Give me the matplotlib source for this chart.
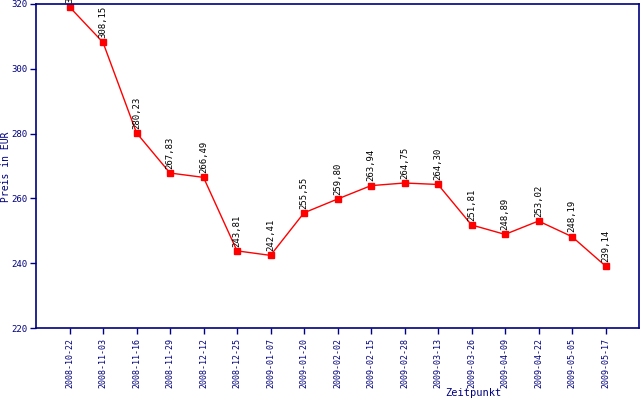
import matplotlib
matplotlib.use('Agg')
import matplotlib.pyplot as plt

dates = ['2008-10-22', '2008-11-03', '2008-11-16', '2008-11-29', '2008-12-12',
         '2008-12-25', '2009-01-07', '2009-01-20', '2009-02-02', '2009-02-15',
         '2009-02-28', '2009-03-13', '2009-03-26', '2009-04-09', '2009-04-22',
         '2009-05-05', '2009-05-17']
prices = [319.10, 308.15, 280.23, 267.83, 266.49, 243.81, 242.41, 255.55, 259.80,
          263.94, 264.75, 264.30, 251.81, 248.89, 253.02, 248.19, 239.14]
y_ticks = [220, 240, 260, 280, 300, 320]

navy = '#000080'
plt.rcParams['font.family'] = 'DejaVu Sans Mono'

fig = plt.figure(figsize=(6.4, 4.0), dpi=100)
ax = fig.add_axes([36 / 640, 72 / 400, 603 / 640, 324 / 400])

x = list(range(len(dates)))
ax.plot(x, prices, color='red', linewidth=1, marker='s', markersize=5,
        markerfacecolor='red', markeredgecolor='red')

for i, p in enumerate(prices):
    ax.annotate(f'{p:.2f}'.replace('.', ','), (i, p), xytext=(0, 3),
                textcoords='offset points', rotation=90, ha='center', va='bottom',
                fontsize=6.5, color='black', annotation_clip=False)

ax.set_xlim(-1, len(dates))
ax.set_ylim(220, 320)
ax.set_xticks(x)
ax.set_xticklabels(dates, rotation=90, fontsize=6, color=navy)
ax.set_yticks(y_ticks)
ax.set_yticklabels([str(t) for t in y_ticks], fontsize=6.5, color=navy)
ax.tick_params(colors=navy, length=4, width=1)
ax.tick_params(axis='y', pad=2)

for s in ax.spines.values():
    s.set_color(navy)
    s.set_linewidth(1.2)

fig.text(6 / 640, 1 - 167 / 400, 'Preis in EUR', rotation=90, color=navy,
         fontsize=7, ha='center', va='center')
fig.text(473 / 640, 1 - 393 / 400, 'Zeitpunkt', color=navy,
         fontsize=7.5, ha='center', va='center')

fig.savefig('out.png', dpi=100)
